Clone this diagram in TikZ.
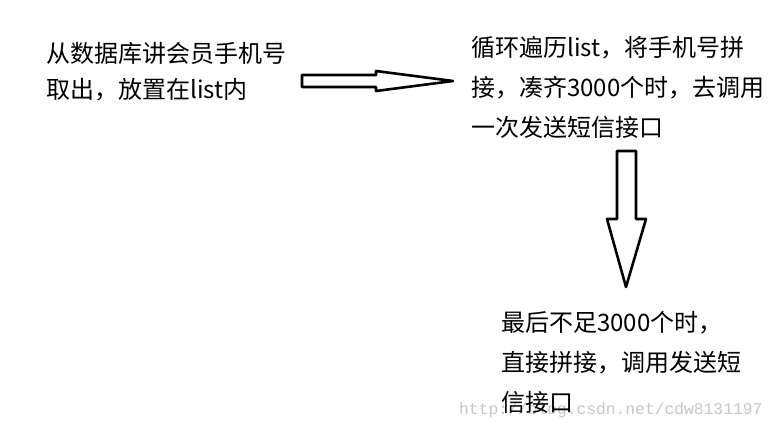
\documentclass[tikz,border=0pt]{standalone}
\usepackage{fontspec}
\newfontfamily\cjk{Noto Sans CJK SC}
\newfontfamily\wmfont{Liberation Mono}
\tikzset{
  txt/.style={anchor=base west, inner sep=0pt, align=left, font=\cjk\fontsize{24}{40}\selectfont},
  blockarrow/.style={draw=black, line width=2.6pt, fill=white, line join=round},
  wm/.style={anchor=base west, inner sep=0pt, text=black!22, font=\wmfont\fontsize{16.3}{18}\selectfont}
}
\begin{document}
\begin{tikzpicture}[x=1pt,y=-1pt]
\useasboundingbox[fill=white] (0,0) rectangle (780,429);
\node[wm] (mark) at (459,414) {http://blog.csdn.net/cdw8131197};
\node[txt, font=\cjk\fontsize{24}{36.5}\selectfont] (a) at (46,98.5) {从数据库讲会员手机号\\取出，放置在list内};
\node[txt] (b) at (471,136) {循环遍历list，将手机号拼\\接，凑齐3000个时，去调用\\一次发送短信接口};
\node[txt] (c) at (501,411) {最后不足3000个时，\\直接拼接，调用发送短\\信接口};
\draw[blockarrow] (302,75) -- (376,75) -- (376,71) -- (453,81) -- (376,91) -- (376,87) -- (302,87) -- cycle;
\draw[blockarrow] (617,151) -- (636,151) -- (636,219) -- (646,219) -- (626,287) -- (607,219) -- (617,219) -- cycle;
\end{tikzpicture}
\end{document}
